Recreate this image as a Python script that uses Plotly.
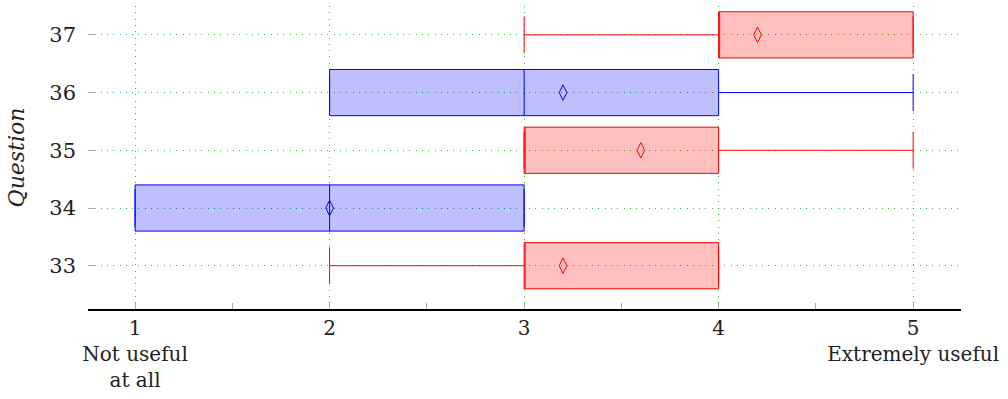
import plotly.graph_objects as go

# Data
questions_red = [33, 35, 37]
red_lower = [2, 3, 3]
red_q1 = [3, 3, 4]
red_median = [3, 3, 4]
red_q3 = [4, 4, 5]
red_upper = [4, 5, 5]
red_mean = [3.2, 3.6, 4.2]

questions_blue = [34, 36]
blue_lower = [1, 2]
blue_q1 = [1, 2]
blue_median = [2, 3]
blue_q3 = [3, 4]
blue_upper = [3, 5]
blue_mean = [2.0, 3.2]

x_tickvals = [1, 2, 3, 4, 5]
x_ticktext = ["1<br>Not useful<br>at all", "2", "3", "4", "5<br>Extremely useful"]
y_tickvals = [33, 34, 35, 36, 37]

FONT = "DejaVu Serif"

fig = go.Figure()

def add_box(pos, lo, q1, med, q3, hi, mean, line, fill):
    fig.add_trace(go.Box(
        y=pos, q1=q1, median=med, q3=q3, lowerfence=lo, upperfence=hi,
        orientation="h", width=0.8, whiskerwidth=0.8,
        line=dict(color=line, width=1), fillcolor=fill,
        boxpoints=False, showlegend=False,
    ))
    fig.add_trace(go.Scatter(
        x=mean, y=pos, mode="markers",
        marker=dict(symbol="diamond-tall-open", size=11, color=line,
                    line=dict(color=line, width=1)),
        showlegend=False,
    ))

add_box(questions_red, red_lower, red_q1, red_median, red_q3, red_upper, red_mean,
        "#ff0000", "rgba(255,0,0,0.25)")
add_box(questions_blue, blue_lower, blue_q1, blue_median, blue_q3, blue_upper, blue_mean,
        "#0000ff", "rgba(0,0,255,0.25)")

grid_color = "rgba(0,150,0,0.75)"
grid_dash = "1px,5.3px"

fig.update_layout(
    width=1008, height=399,
    margin=dict(l=88, r=47, t=6, b=90),
    paper_bgcolor="white", plot_bgcolor="white",
    font=dict(family=FONT, size=20, color="#222"),
    boxmode="overlay",
    xaxis=dict(
        range=[0.758, 5.246], automargin=False,
        tickmode="array", tickvals=x_tickvals, ticktext=x_ticktext,
        ticks="inside", ticklen=6, tickcolor="#aaaaaa", tickwidth=1,
        showgrid=True, gridcolor=grid_color, griddash=grid_dash, gridwidth=1,
        showline=True, linecolor="black", linewidth=1.5,
        zeroline=False,
        minor=dict(tickvals=[1.5, 2.5, 3.5, 4.5], ticks="inside", ticklen=6,
                   tickcolor="#aaaaaa", tickwidth=1, showgrid=False),
        tickfont=dict(family=FONT, size=20, color="#222"),
    ),
    yaxis=dict(
        range=[32.25, 37.5], automargin=False,
        tickmode="array", tickvals=y_tickvals,
        ticks="inside", ticklen=8, tickcolor="#aaaaaa", tickwidth=1,
        showgrid=True, gridcolor=grid_color, griddash=grid_dash, gridwidth=1,
        showline=False, zeroline=False,
        ticklabelstandoff=11,
        tickfont=dict(family=FONT, size=21, color="#222"),
        title=dict(text="<i>Question</i>", font=dict(family=FONT, size=22, color="#222"),
                   standoff=18),
    ),
)

fig.write_html("out.html", config={"displayModeBar": False},
               post_script="document.body.style.margin='0';document.body.style.overflow='hidden';")
